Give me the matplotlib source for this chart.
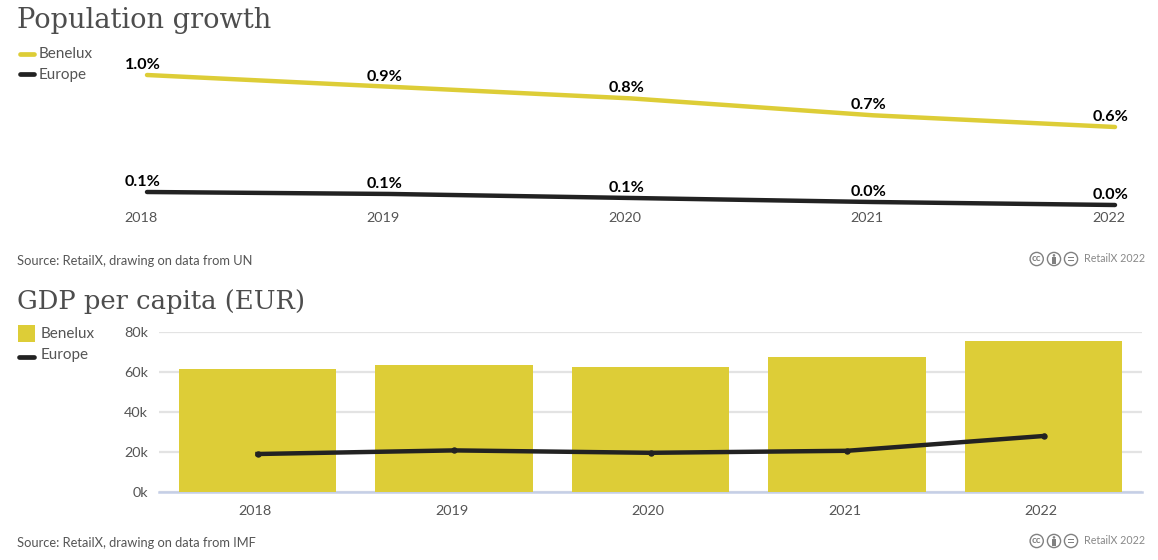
import matplotlib
matplotlib.use("Agg")
import matplotlib.pyplot as plt
from matplotlib.patches import Circle, Rectangle
from matplotlib.lines import Line2D
from matplotlib.transforms import ScaledTranslation

years = ["2018", "2019", "2020", "2021", "2022"]
pop_benelux = [1.00, 0.91, 0.82, 0.69, 0.60]
pop_europe = [0.10, 0.085, 0.054, 0.023, 0.0]
gdp_benelux = [61.5, 63.5, 62.5, 67.5, 75.5]
gdp_europe = [19.0, 20.8, 19.6, 20.6, 28.0]
gdp_ticks = [0, 20, 40, 60, 80]

W, H = 1158, 560
YEL = "#ddcd37"
BLK = "#222222"
GREY = "#555555"
SANS = "Lato"
SERIF = "DejaVu Serif"

fig = plt.figure(figsize=(W / 100, H / 100), dpi=100, facecolor="white")


def fx(px):
    return px / W


def fy(py):
    return 1 - py / H


def text(px, py, s, **kw):
    kw.setdefault("family", SANS)
    kw.setdefault("color", GREY)
    kw.setdefault("va", "center")
    fig.text(fx(px), fy(py), s, **kw)


def cc_badge(py):
    centers = [1036.7, 1054, 1071]
    for cx in centers:
        fig.add_artist(Circle((cx, H - py), 6.6, transform=None, fill=False,
                              ec="#808080", lw=1.0))
    text(centers[0], py - 0.3, "cc", fontsize=7, ha="center", color="#808080", fontweight="bold")
    cx = centers[1]
    fig.add_artist(Circle((cx, H - py + 3.6), 1.3, transform=None, fc="#808080", ec="none"))
    fig.add_artist(Rectangle((cx - 1.9, H - py - 4.5), 3.8, 6.8, transform=None,
                             fc="#808080", ec="none"))
    cx = centers[2]
    for dy in (-1.5, 1.5):
        fig.add_artist(Rectangle((cx - 3, H - py + dy - 0.6), 6, 1.2, transform=None,
                                 fc="#808080", ec="none"))
    text(1084, py, "RetailX 2022", fontsize=7.7, color="#888888")


# Population growth
ax1 = fig.add_axes([fx(147), fy(205), fx(968), 130 / H])
ax1.set_xlim(0, 4)
ax1.set_ylim(0, 1)
ax1.axis("off")
x = list(range(len(years)))
ax1.plot(x, pop_benelux, color=YEL, lw=3.2, solid_capstyle="round", clip_on=False)
ax1.plot(x, pop_europe, color=BLK, lw=3.2, solid_capstyle="round", clip_on=False)
for i, year in enumerate(years):
    for series in (pop_benelux, pop_europe):
        ax1.annotate(f"{series[i]:.1f}%", (i, series[i]), xytext=(-3.0, 2.2),
                     textcoords="offset points", ha="center", va="bottom",
                     fontsize=11.6, fontweight="bold", color="black", family=SANS,
                     annotation_clip=False)
    ax1.annotate(year, (i, 0), xytext=(-4.3, -9.3), textcoords="offset points",
                 ha="center", va="center", fontsize=10.4, color=GREY, family=SANS,
                 annotation_clip=False)

text(17, 20, "Population growth", family=SERIF, fontsize=19.6, color="#4d4d4d")
fig.add_artist(Line2D([fx(20), fx(34)], [fy(53.5)] * 2, color=YEL, lw=3.4, solid_capstyle="round"))
fig.add_artist(Line2D([fx(20), fx(34)], [fy(74)] * 2, color=BLK, lw=3.4, solid_capstyle="round"))
text(39, 54, "Benelux", fontsize=11)
text(39, 75, "Europe", fontsize=11)
text(17, 261, "Source: RetailX, drawing on data from UN", fontsize=9.25)
cc_badge(259)

# GDP per capita
ax2 = fig.add_axes([fx(159.25), fy(492), fx(982.5), 160 / H])
ax2.set_xlim(-0.5, 4.5)
ax2.set_ylim(0, 80)
for s in ax2.spines.values():
    s.set_visible(False)
ax2.set_axisbelow(True)
ax2.yaxis.grid(True, color="#e3e3e3", lw=1.6)
ax2.xaxis.grid(False)
ax2.bar(x, gdp_benelux, width=0.8, color=YEL, zorder=2)
ax2.plot(x, gdp_europe, color=BLK, lw=3.2, marker="o", ms=3.6, zorder=3)
ax2.axhline(0, color="#c5cfe6", lw=1.8, zorder=1, clip_on=False)
ax2.set_xticks(x, years)
ax2.set_yticks(gdp_ticks, [f"{v}k" for v in gdp_ticks])
ax2.tick_params(length=0, labelsize=10.4, labelcolor=GREY)
ax2.tick_params(axis="x", pad=9.5)
ax2.tick_params(axis="y", pad=8)
shift = ScaledTranslation(-2.5 / 100, 0, fig.dpi_scale_trans)
for lab in ax2.get_xticklabels():
    lab.set_family(SANS)
    lab.set_transform(lab.get_transform() + shift)
for lab in ax2.get_yticklabels():
    lab.set_family(SANS)

text(17, 301.5, "GDP per capita (EUR)", family=SERIF, fontsize=18.6, color="#4d4d4d")
fig.add_artist(Rectangle((fx(18), fy(342)), 17 / W, 17 / H, transform=fig.transFigure,
                         fc=YEL, ec="none"))
fig.add_artist(Line2D([fx(19), fx(34)], [fy(356.5)] * 2, color=BLK, lw=3.4, solid_capstyle="round"))
text(41, 334, "Benelux", fontsize=11)
text(41, 355.5, "Europe", fontsize=11)
text(17, 543, "Source: RetailX, drawing on data from IMF", fontsize=9.25)
cc_badge(541)

fig.savefig("out.png", dpi=100)
